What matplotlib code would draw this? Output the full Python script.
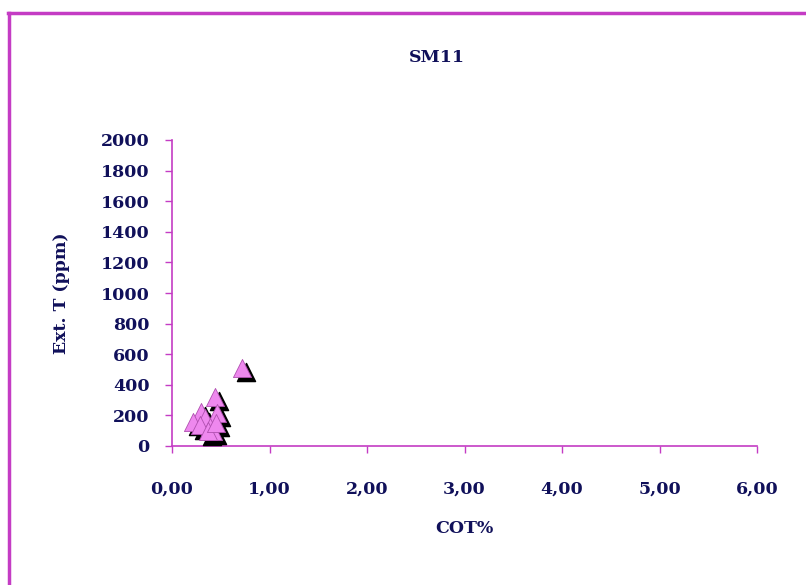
import matplotlib.pyplot as plt
from matplotlib.lines import Line2D
import matplotlib.transforms as mtransforms

# data
cot = [0.72, 0.44, 0.46, 0.30, 0.22, 0.34, 0.39, 0.29, 0.42, 0.37, 0.45]
ext_t = [510, 320, 215, 225, 160, 185, 125, 135, 100, 95, 150]
x_ticks = [0, 1, 2, 3, 4, 5, 6]
x_labels = ['0,00', '1,00', '2,00', '3,00', '4,00', '5,00', '6,00']
y_ticks = list(range(0, 2001, 200))

navy = '#10105a'
mag = '#c43cc4'
font = 'DejaVu Serif'

fig = plt.figure(figsize=(8.06, 5.85), dpi=100)
fig.patch.set_facecolor('white')

# outer border (top and left visible)
fig.add_artist(Line2D([8/806, 1], [1 - 13/585, 1 - 13/585], color=mag, lw=2.5))
fig.add_artist(Line2D([9/806, 9/806], [0, 1 - 13/585], color=mag, lw=2.5))

ax = fig.add_axes([172/806, (585-446)/585, (757-172)/806, (446-140)/585])
ax.set_xlim(0, 6)
ax.set_ylim(0, 2000)

# black shadow then pink triangles
shadow = mtransforms.offset_copy(ax.transData, fig=fig, x=3, y=-3, units='points')
ax.scatter(cot, ext_t, marker='^', s=170, color='black', transform=shadow, zorder=3, clip_on=False)
ax.scatter(cot, ext_t, marker='^', s=170, color='#ee88ee', edgecolor='#b050b0', linewidth=0.6, zorder=4, clip_on=False)

for s in ['top', 'right']:
    ax.spines[s].set_visible(False)
for s in ['left', 'bottom']:
    ax.spines[s].set_color(mag)
    ax.spines[s].set_linewidth(1.2)

ax.set_xticks(x_ticks)
ax.set_xticklabels(x_labels)
ax.set_yticks(y_ticks)
ax.tick_params(colors=mag, length=5, width=1, direction='out', labelcolor=navy, labelsize=12.5)
for lab in ax.get_xticklabels() + ax.get_yticklabels():
    lab.set_fontfamily(font)
    lab.set_fontweight('bold')
ax.tick_params(axis='y', pad=11)
ax.tick_params(axis='x', pad=20)

ax.set_xlabel('COT%', fontfamily=font, fontweight='bold', color=navy, fontsize=12.5, labelpad=16)
ax.set_ylabel('Ext. T (ppm)', fontfamily=font, fontweight='bold', color=navy, fontsize=12.5, labelpad=22)
fig.text(437/806, 1 - 57/585, 'SM11', ha='center', va='center', fontfamily=font,
         fontweight='bold', color=navy, fontsize=12.5)

fig.savefig('out.png', dpi=100)
